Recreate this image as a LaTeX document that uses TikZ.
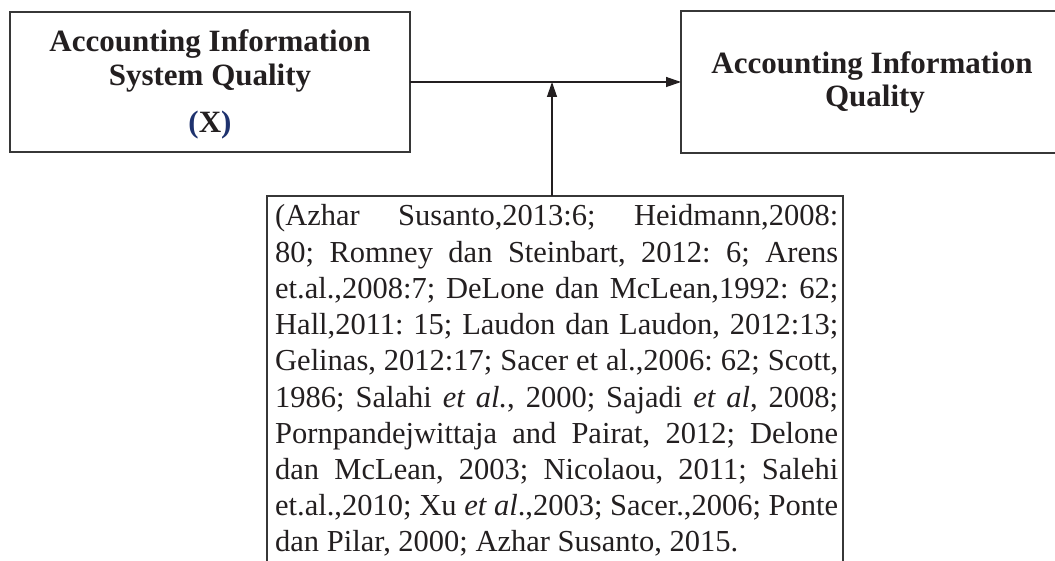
\documentclass[tikz,border=0pt]{standalone}
\usepackage{fontspec}
\setmainfont{Liberation Serif}
\usetikzlibrary{arrows.meta}
\definecolor{ink}{RGB}{35,31,32}
\definecolor{frame}{RGB}{55,55,55}
\definecolor{navy}{RGB}{30,50,110}
\begin{document}
\begin{tikzpicture}[x=1pt,y=1pt,
  boxstyle/.style={draw=frame, line width=1.3pt, rectangle, inner sep=0pt, outer sep=0pt},
  btext/.style={font=\fontsize{31}{36}\selectfont\bfseries, text=ink, inner sep=0pt, anchor=base},
  rtext/.style={font=\fontsize{30.5}{36}\selectfont\frenchspacing, text=ink, inner sep=0pt, anchor=base west},
  arr/.style={draw=ink, line width=1.3pt, -{Triangle[length=15pt,width=10pt]}}]
\useasboundingbox (0,0) rectangle (1055,-561);
\clip (0,0) rectangle (1055,-561);
% left box
\node[boxstyle, minimum width=400pt, minimum height=140pt] (aisq) at (210,-82) {};
\node[btext] (aisqa) at (210,-52) {Accounting Information};
\node[btext] (aisqb) at (210,-86) {System Quality};
\node[btext] (aisqx) at (210,-133) {\textcolor{navy}{(}X\textcolor{navy}{)}};
% right box
\node[boxstyle, minimum width=382pt, minimum height=142pt] (aiq) at (872,-82) {};
\node[btext] (aiqa) at (872,-74) {Accounting Information};
\node[btext] (aiqb) at (875,-107) {Quality};
% bottom box
\node[boxstyle, minimum width=576pt, minimum height=420pt] (refs) at (555,-406) {};
\node[rtext] (r1) at (275,-226) {\makebox[563pt][s]{(Azhar Susanto,2013:6; Heidmann,2008:}};
\node[rtext] (r2) at (275,-262.2) {\makebox[563pt][s]{80; Romney dan Steinbart, 2012: 6; Arens}};
\node[rtext] (r3) at (275,-298.4) {\makebox[563pt][s]{et.al.,2008:7; DeLone dan McLean,1992: 62;}};
\node[rtext] (r4) at (275,-334.6) {\makebox[563pt][s]{Hall,2011: 15; Laudon dan Laudon, 2012:13;}};
\node[rtext] (r5) at (275,-370.8) {\makebox[563pt][s]{Gelinas, 2012:17; Sacer et al.,2006: 62; Scott,}};
\node[rtext] (r6) at (275,-407) {\makebox[563pt][s]{1986; Salahi \textit{et al.}, 2000; Sajadi \textit{et al}, 2008;}};
\node[rtext] (r7) at (275,-443.2) {\makebox[563pt][s]{Pornpandejwittaja and Pairat, 2012; Delone}};
\node[rtext] (r8) at (275,-479.4) {\makebox[563pt][s]{dan McLean, 2003; Nicolaou, 2011; Salehi}};
\node[rtext] (r9) at (275,-515.6) {\makebox[563pt][s]{et.al.,2010; Xu \textit{et al}.,2003; Sacer.,2006; Ponte}};
\node[rtext] (r10) at (275,-551.8) {dan Pilar, 2000; Azhar Susanto, 2015.};
% connectors
\draw[arr] (aisq.east) -- (aiq.west);
\draw[arr] ([xshift=-3pt]refs.north) -- ([xshift=-3pt]refs.north |- aisq.east);
\end{tikzpicture}
\end{document}
